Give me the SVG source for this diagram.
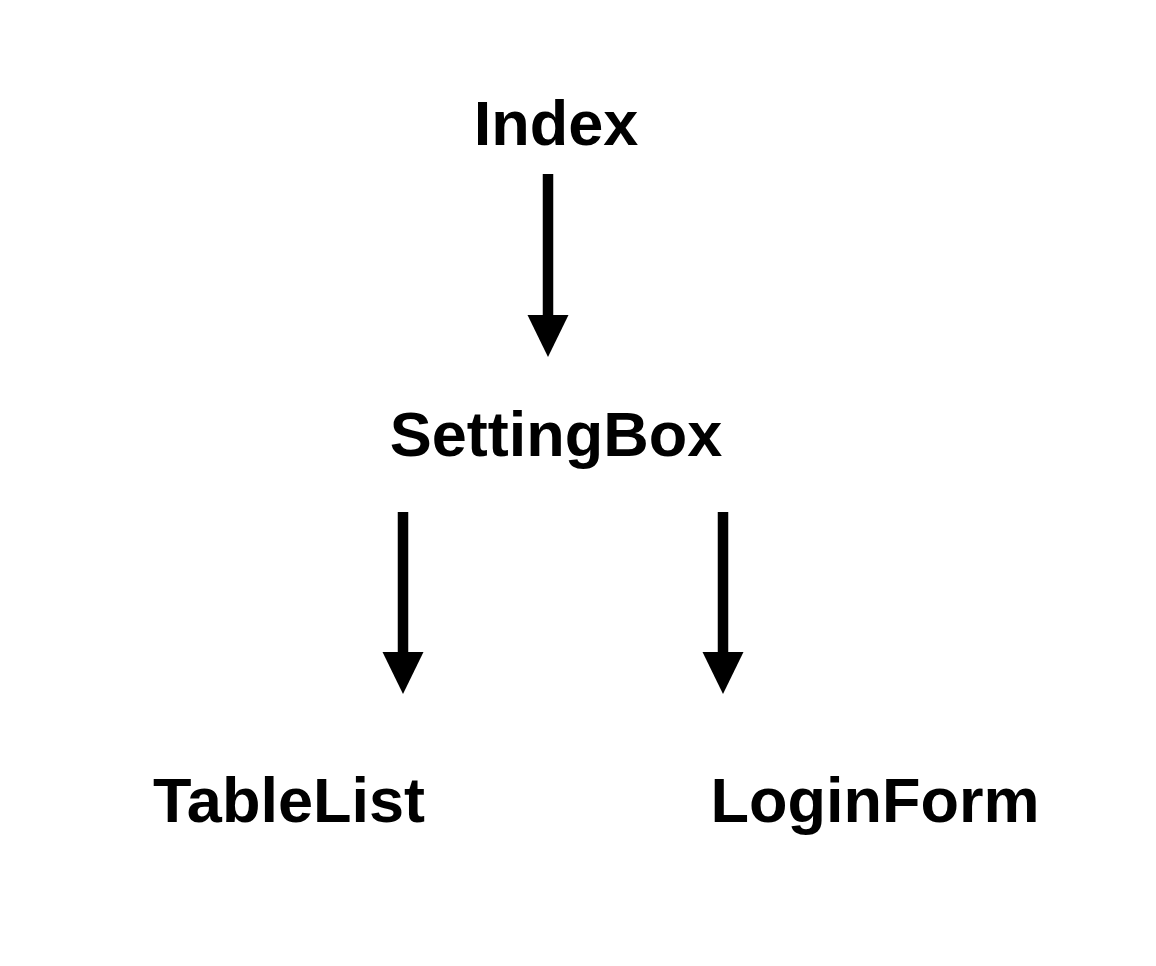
<svg xmlns="http://www.w3.org/2000/svg" width="1156" height="966" viewBox="0 0 1156 966">
<style>
.lbl{font-family:"Liberation Sans",Arial,sans-serif;font-weight:bold;font-size:63px;fill:#000;text-anchor:middle}
.edge{stroke:#000;stroke-width:10.5;fill:none}
</style>
<defs>
<marker id="ah" markerUnits="userSpaceOnUse" markerWidth="42" markerHeight="42" viewBox="0 0 41 40" refX="0" refY="20" orient="auto">
<polygon points="0,0 41,20 0,40" fill="#000"/>
</marker>
</defs>
<rect width="1156" height="966" fill="#fff"/>
<g id="connectors">
<path class="edge" d="M548,174 V315" marker-end="url(#ah)"/>
<path class="edge" d="M403,512 V652" marker-end="url(#ah)"/>
<path class="edge" d="M723,512 V652" marker-end="url(#ah)"/>
</g>
<g id="index"><text class="lbl" x="556" y="145">Index</text></g>
<g id="settingbox"><text class="lbl" x="556" y="456">SettingBox</text></g>
<g id="tablelist"><text class="lbl" x="289" y="822">TableList</text></g>
<g id="loginform"><text class="lbl" x="875" y="822">LoginForm</text></g>
</svg>
